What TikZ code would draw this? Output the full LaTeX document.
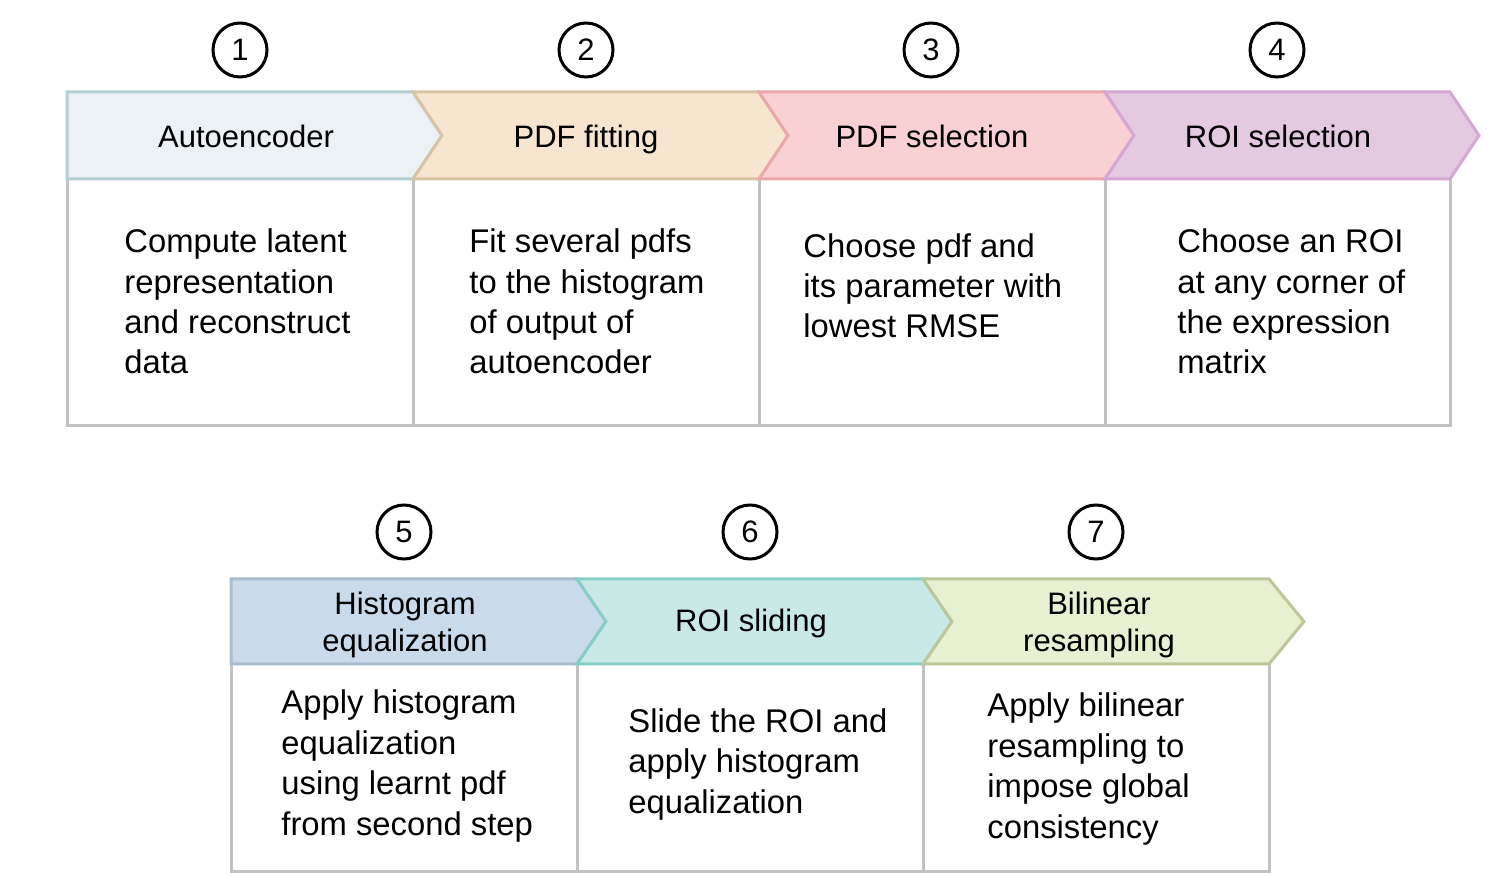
\documentclass[tikz,border=0pt]{standalone}
\usepackage{fontspec}
\setmainfont{Liberation Sans}
\definecolor{bodyline}{HTML}{C2C2C2}
\definecolor{fillA}{HTML}{EBF1F4}\definecolor{lineA}{HTML}{B5CED5}
\definecolor{fillB}{HTML}{F7E5D0}\definecolor{lineB}{HTML}{D8C3A5}
\definecolor{fillC}{HTML}{F9D1D5}\definecolor{lineC}{HTML}{EAA7AC}
\definecolor{fillD}{HTML}{E3CAE0}\definecolor{lineD}{HTML}{D4A8D3}
\definecolor{fillE}{HTML}{C9DAEA}\definecolor{lineE}{HTML}{A8BDD0}
\definecolor{fillF}{HTML}{C9E9E6}\definecolor{lineF}{HTML}{87CFC6}
\definecolor{fillG}{HTML}{E7F0D0}\definecolor{lineG}{HTML}{BDC79A}
\begin{document}
\begin{tikzpicture}[x=0.5pt,y=-0.5pt,
  cell/.style={draw=bodyline,line width=1.5pt},
  chevron/.style={line width=1.5pt,line join=miter},
  num/.style={circle,draw=black,line width=1.5pt,minimum size=27pt,inner sep=0pt,
    font=\fontsize{15.5pt}{18pt}\selectfont},
  title/.style={anchor=base,align=center,inner sep=0pt,
    font=\fontsize{15.5pt}{18.5pt}\selectfont},
  desc/.style={anchor=base west,align=left,inner sep=0pt,
    font=\fontsize{16.4pt}{20.2pt}\selectfont}]
\useasboundingbox (0,0) rectangle (1500,876);

% ---------- first row: body cells ----------
\draw[cell] (67,179) rectangle (413,426);
\draw[cell] (413,179) rectangle (759,426);
\draw[cell] (759,179) rectangle (1105,426);
\draw[cell] (1105,179) rectangle (1450,426);

% ---------- first row: headers ----------
\draw[chevron,fill=fillA,draw=lineA] (67,92) -- (413,92) -- (442,135.5) -- (413,179) -- (67,179) -- cycle;
\draw[chevron,fill=fillB,draw=lineB] (413,92) -- (759,92) -- (788,135.5) -- (759,179) -- (413,179) -- (442,135.5) -- cycle;
\draw[chevron,fill=fillC,draw=lineC] (759,92) -- (1105,92) -- (1134,135.5) -- (1105,179) -- (759,179) -- (788,135.5) -- cycle;
\draw[chevron,fill=fillD,draw=lineD] (1105,92) -- (1450,92) -- (1479,135.5) -- (1450,179) -- (1105,179) -- (1134,135.5) -- cycle;

% ---------- second row: body cells ----------
\draw[cell] (231,664) rectangle (577,871);
\draw[cell] (577,664) rectangle (923,871);
\draw[cell] (923,664) rectangle (1269,871);

% ---------- second row: headers ----------
\draw[chevron,fill=fillE,draw=lineE] (231,579) -- (577,579) -- (606,621.5) -- (577,664) -- (231,664) -- cycle;
\draw[chevron,fill=fillF,draw=lineF] (577,579) -- (923,579) -- (952,621.5) -- (923,664) -- (577,664) -- (606,621.5) -- cycle;
\draw[chevron,fill=fillG,draw=lineG] (923,579) -- (1269,579) -- (1304,621.5) -- (1269,664) -- (923,664) -- (952,621.5) -- cycle;

% ---------- step numbers ----------
\node[num] (n1) at (240,50) {1};
\node[num] (n2) at (586,50) {2};
\node[num] (n3) at (931,50) {3};
\node[num] (n4) at (1277,50) {4};
\node[num] (n5) at (404,532) {5};
\node[num] (n6) at (750,532) {6};
\node[num] (n7) at (1096,532) {7};

% ---------- header titles (base = last line) ----------
\node[title] (t1) at (246,148) {Autoencoder};
\node[title] (t2) at (586,148) {PDF fitting};
\node[title] (t3) at (932,148) {PDF selection};
\node[title] (t4) at (1278,148) {ROI selection};
\node[title] (t5) at (405,652) {Histogram\\equalization};
\node[title] (t6) at (751,632) {ROI sliding};
\node[title] (t7) at (1099,652) {Bilinear\\resampling};

% ---------- descriptions (base = last line) ----------
\node[desc] (d1) at (124,374) {Compute latent\\representation\\and reconstruct\\data};
\node[desc] (d2) at (469,374) {Fit several pdfs\\to the histogram\\of output of\\autoencoder};
\node[desc] (d3) at (803,338) {Choose pdf and\\its parameter with\\lowest RMSE};
\node[desc] (d4) at (1177,374) {Choose an ROI\\at any corner of\\the expression\\matrix};
\node[desc] (d5) at (281,835) {Apply histogram\\equalization\\using learnt pdf\\from second step};
\node[desc] (d6) at (628,813) {Slide the ROI and\\apply histogram\\equalization};
\node[desc] (d7) at (987,838) {Apply bilinear\\resampling to\\impose global\\consistency};
\end{tikzpicture}
\end{document}
